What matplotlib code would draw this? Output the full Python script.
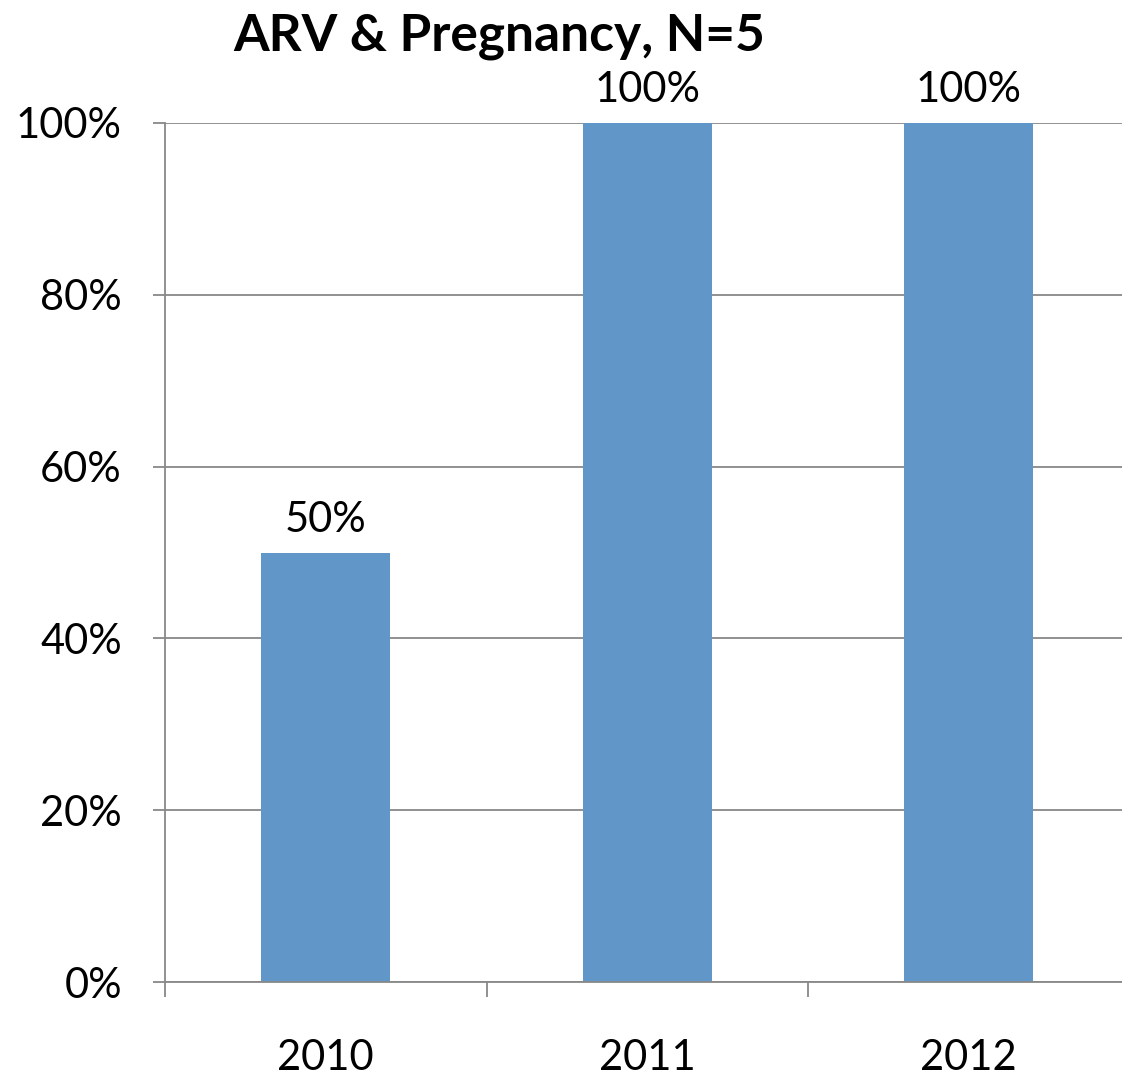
import matplotlib
matplotlib.use("Agg")
import matplotlib.pyplot as plt
from matplotlib.ticker import FixedLocator, PercentFormatter

years = ["2010", "2011", "2012"]
values = [50, 100, 100]
labels = ["50%", "100%", "100%"]
yticks = [0, 20, 40, 60, 80, 100]
title = "ARV & Pregnancy, N=5"

plt.rcParams['font.family'] = ['Lato', 'DejaVu Sans']

W, H = 1122, 1078
fig = plt.figure(figsize=(W / 100, H / 100), dpi=100)
left, right, top, bottom = 165, 1129.5, 123, 982
ax = fig.add_axes([left / W, 1 - bottom / H, (right - left) / W, (bottom - top) / H])

x = list(range(len(years)))
ax.bar(x, values, width=0.4, color="#6096C8", zorder=3)
for xi, v, lab in zip(x, values, labels):
    ax.annotate(lab, (xi, v), xytext=(0, 10), textcoords="offset points",
                ha="center", va="bottom", fontsize=30, color="black")

ax.set_xlim(-0.5, 2.5)
ax.set_ylim(0, 100)
ax.set_yticks(yticks)
ax.yaxis.set_major_formatter(PercentFormatter(decimals=0))
ax.set_xticks(x)
ax.set_xticklabels(years)
ax.xaxis.set_minor_locator(FixedLocator([-0.5, 0.5, 1.5]))
ax.tick_params(axis="x", which="major", length=0, pad=41, labelsize=30)
ax.tick_params(axis="x", which="minor", length=11, width=1.3, color="#888888")
ax.tick_params(axis="y", length=9, width=1.3, color="#888888", pad=22, labelsize=30)

ax.grid(axis="y", color="#888888", linewidth=1.3, zorder=0)
for s in ["top", "right"]:
    ax.spines[s].set_visible(False)
for s in ["left", "bottom"]:
    ax.spines[s].set_color("#888888")
    ax.spines[s].set_linewidth(1.3)
    ax.spines[s].set_zorder(4)

fig.text(499 / W, 1 - 36 / H, title, ha="center", va="center",
         fontsize=37, fontweight="bold")

fig.savefig("out.png", dpi=100)
